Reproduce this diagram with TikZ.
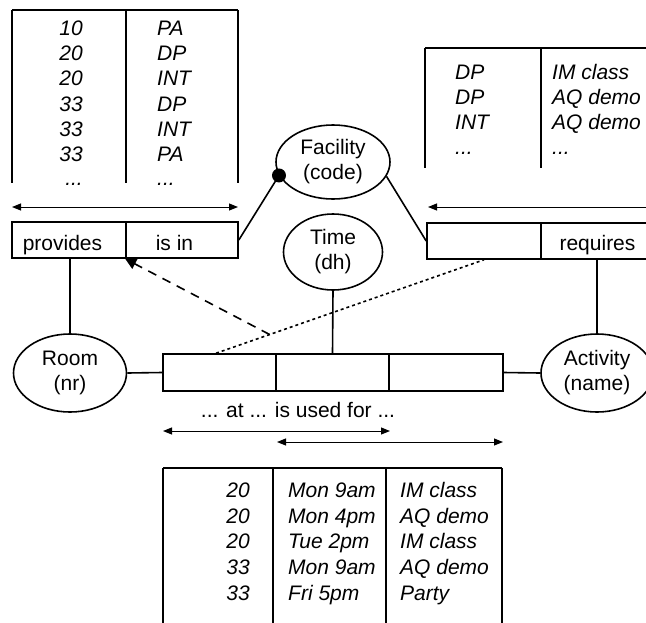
\documentclass[tikz,border=0pt]{standalone}
\usepackage{fontspec}
\setmainfont{Liberation Sans}
\usetikzlibrary{arrows.meta,shapes.geometric,calc}
\tikzset{hd/.tip={Triangle[length=9pt,width=7pt]}}
\begin{document}
\begin{tikzpicture}[x=1pt,y=-1pt,
  every node/.style={font=\fontsize{21}{25}\selectfont},
  ln/.style={line width=1.6pt},
  thin arrow/.style={line width=1pt},
  cell/.style={draw, line width=1.6pt, minimum height=36pt, inner sep=0},
  ell/.style={draw, ellipse, line width=1.6pt, align=center, inner sep=0},
  val/.style={font=\fontsize{21}{25}\selectfont\itshape, inner sep=0},
  lbl/.style={inner sep=0, anchor=base}
  ]
\useasboundingbox (0,0) rectangle (646,622);
\clip (0,0) rectangle (646,622);

% tables
\draw[ln] (12,10) -- (238,10);
\draw[ln] (12,10) -- (12,183) (126,10) -- (126,183) (238,10) -- (238,183);
\draw[ln] (425,48) -- (660,48);
\draw[ln] (425,48) -- (425,168) (541,48) -- (541,168);
\draw[ln] (163,468) -- (502,468);
\draw[ln] (163,468) -- (163,630) (273,468) -- (273,630) (386,468) -- (386,630) (502,468) -- (502,630);

% top-left table values
\foreach \t [count=\i] in {10,20,20,33,33,33}
  \node[val, anchor=base east] (tla\i) at (83,{35.5+25.2*(\i-1)}) {\t};
\node[val, anchor=base east] (tla7) at (83,185) {...};
\foreach \t [count=\i] in {PA,DP,INT,DP,INT,PA}
  \node[val, anchor=base west] (tlb\i) at (157,{35.5+25.2*(\i-1)}) {\t};
\node[val, anchor=base west] (tlb7) at (157,185) {...};

% top-right table values
\foreach \t [count=\i] in {DP,DP,INT}
  \node[val, anchor=base west] (tra\i) at (455,{79.5+25*(\i-1)}) {\t};
\node[val, anchor=base west] (tra4) at (455,154) {...};
\foreach \t [count=\i] in {IM class,AQ demo,AQ demo}
  \node[val, anchor=base west] (trb\i) at (552,{79.5+25*(\i-1)}) {\t};
\node[val, anchor=base west] (trb4) at (552,154) {...};

% bottom table values
\foreach \t [count=\i] in {20,20,20,33,33}
  \node[val, anchor=base east] (bta\i) at (250,{497.5+25.7*(\i-1)}) {\t};
\foreach \t [count=\i] in {Mon 9am,Mon 4pm,Tue 2pm,Mon 9am,Fri 5pm}
  \node[val, anchor=base west] (btb\i) at (288,{497.5+25.7*(\i-1)}) {\t};
\foreach \t [count=\i] in {IM class,AQ demo,IM class,AQ demo,Party}
  \node[val, anchor=base west] (btc\i) at (400,{497.5+25.7*(\i-1)}) {\t};

% uniqueness arrows
\draw[thin arrow, hd-hd] (12,207) -- (238,207);
\draw[thin arrow, hd-] (428,207) -- (660,207);
\draw[thin arrow, hd-hd] (163,431) -- (390,431);
\draw[thin arrow, hd-hd] (277,442) -- (503,442);

% role boxes
\node[cell, minimum width=114pt] (prov) at (69,240) {};
\node[cell, minimum width=112pt] (isin) at (182,240) {};
\node[lbl] (provtxt) at (62.5,250) {provides};
\node[lbl] (isintxt) at (174.5,250) {is in};

\node[cell, minimum width=114pt] (req1) at (484,241) {};
\node[cell, minimum width=114pt] (req2) at (598,241) {};
\node[lbl] (reqtxt) at (597.5,250) {requires};

\node[cell, minimum width=113pt, minimum height=37pt] (t1) at (219.5,372.5) {};
\node[cell, minimum width=113pt, minimum height=37pt] (t2) at (332.5,372.5) {};
\node[cell, minimum width=114pt, minimum height=37pt] (t3) at (446,372.5) {};
\node[lbl] (ternary) at (298,417) {... at ... is used for ...};

% entity types
\node[ell, minimum width=113pt, minimum height=78pt] (room) at (70,373) {Room\\(nr)};
\node[ell, minimum width=112pt, minimum height=78pt] (act) at (597,373) {Activity\\(name)};
\node[ell, minimum width=114pt, minimum height=74pt] (fac) at (333,162) {Facility\\(code)};
\node[ell, minimum width=99pt, minimum height=76pt] (time) at (333,252) {Time\\(dh)};

% connectors
\draw[ln] (room.north) -- (room.north |- prov.south);
\draw[ln] (act.north) -- (act.north |- req2.south);
\draw[ln] (room.east) -- (t1.west);
\draw[ln] (t3.east) -- (act.west);
\draw[ln] (time.south) -- (t2.north);
\node[circle, fill, inner sep=0, minimum size=14pt] (dot) at (fac.194) {};
\draw[ln] (dot.center) -- (isin.east);
\draw[ln] (fac.-15) -- (req1.west);

\coordinate (dA) at ($(t1.north west)!0.47!(t1.north east)$);
\draw[ln, dash pattern=on 3pt off 3pt] (dA) -- (req1.south);
\draw[ln, dash pattern=on 9pt off 7pt, -{Triangle[length=11pt,width=11pt]}]
  ($(dA)!0.2!(req1.south)$) -- (isin.south west);
\end{tikzpicture}
\end{document}
